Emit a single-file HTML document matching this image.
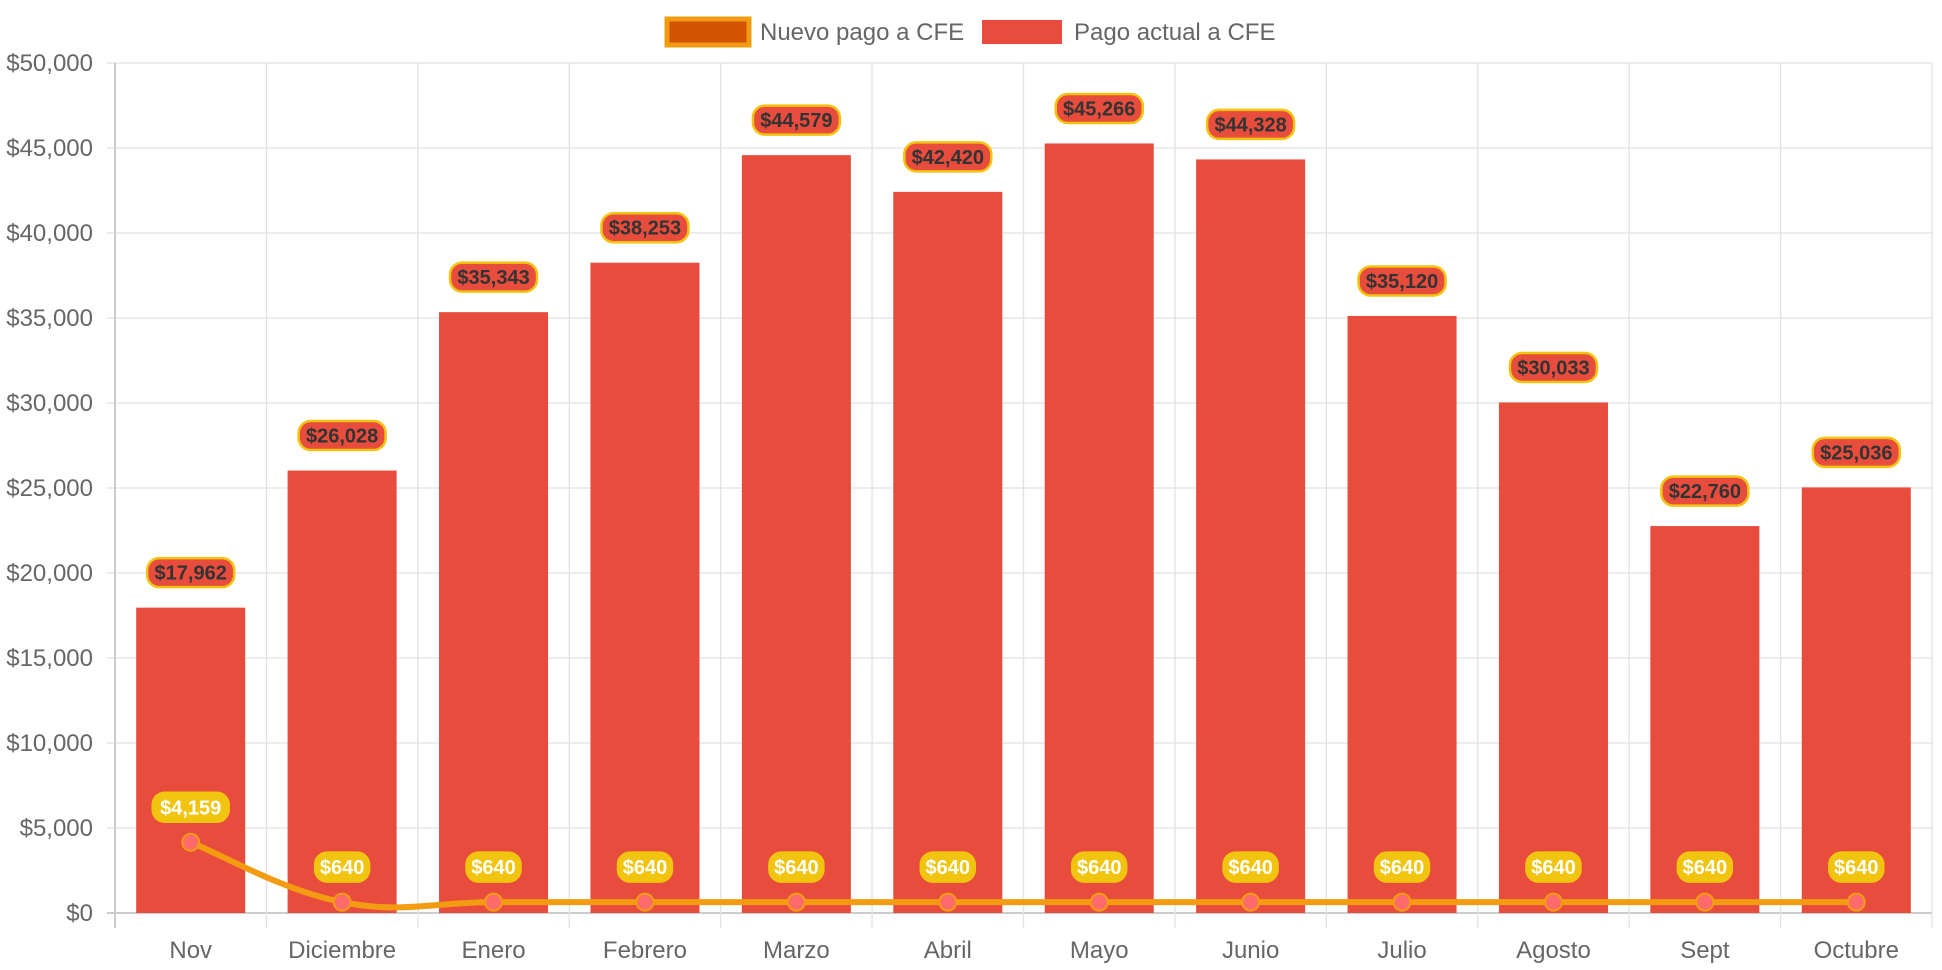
<!DOCTYPE html>
<html><head><meta charset="utf-8">
<style>
html,body{margin:0;padding:0;background:#fff;}
svg{display:block;font-family:"Liberation Sans",sans-serif;}
</style></head>
<body>
<svg id="chart" width="1942" height="970">
  <g id="legend">
    <g>
      <rect x="667" y="19" width="82" height="26" fill="#d35400" stroke="#f39c12" stroke-width="5"/>
      <text x="760" y="40" font-size="24" fill="#666">Nuevo pago a CFE</text>
    </g>
    <g>
      <rect x="982" y="20" width="80" height="24" fill="#e74c3c"/>
      <text x="1074" y="40" font-size="24" fill="#666">Pago actual a CFE</text>
    </g>
  </g>
  <g id="grid"></g>
  <g id="bars"></g>
  <g id="line"></g>
  <g id="labels"></g>
</svg>
<script>
const categories=["Nov","Diciembre","Enero","Febrero","Marzo","Abril","Mayo","Junio","Julio","Agosto","Sept","Octubre"];
const pagoActual=[17962,26028,35343,38253,44579,42420,45266,44328,35120,30033,22760,25036];
const nuevoPago=[4159,640,640,640,640,640,640,640,640,640,640,640];
const yTicks=[0,5000,10000,15000,20000,25000,30000,35000,40000,45000,50000];

const NS="http://www.w3.org/2000/svg";
const L=115,R=1932,T=63,B=913,YMAX=50000;
const band=(R-L)/categories.length;
const xC=i=>L+band*(i+0.5);
const y=v=>B-(v/YMAX)*(B-T);
const fmt=v=>"$"+v.toLocaleString("en-US");
function mk(tag,attrs,parent){const e=document.createElementNS(NS,tag);for(const k in attrs)e.setAttribute(k,attrs[k]);parent.appendChild(e);return e;}

const grid=document.getElementById('grid');
yTicks.forEach(t=>{
  const g=mk('g',{},grid);
  
  
  mk('line',{x1:L-8,x2:R,y1:y(t),y2:y(t),stroke:t===0?'#ccc':'#e2e2e2','stroke-width':t===0?2:1.3},g);
  const tx=mk('text',{x:93,y:y(t)+8,'text-anchor':'end','font-size':24,fill:'#666'},g);
  tx.textContent=fmt(t);
  
  
});
for(let i=0;i<=categories.length;i++){
  const x=L+band*i;
  mk('line',{x1:x,x2:x,y1:T,y2:B+15,stroke:i===0?'#ccc':'#e2e2e2','stroke-width':i===0?2:1.3},grid);
}
categories.forEach((c,i)=>{
  const tx=mk('text',{x:xC(i),y:958,'text-anchor':'middle','font-size':24,fill:'#666'},grid);
  tx.textContent=c;
  
  
});

const bars=document.getElementById('bars');
const bw=band*0.72;
pagoActual.forEach((v,i)=>{
  const r=mk('rect',{x:xC(i)-bw/2,y:y(v),width:bw,height:B-y(v),fill:'#e74c3c'},bars);
  
  
});

const pts=nuevoPago.map((v,i)=>[xC(i),y(v)]);
const tension=0.4;
let d="M"+pts[0][0]+","+pts[0][1];
for(let i=0;i<pts.length-1;i++){
  const p0=pts[i-1]||pts[i],p1=pts[i],p2=pts[i+1],p3=pts[i+2]||p2;
  const c1=[p1[0]+(p2[0]-p0[0])*tension/2,p1[1]+(p2[1]-p0[1])*tension/2];
  const c2=[p2[0]-(p3[0]-p1[0])*tension/2,p2[1]-(p3[1]-p1[1])*tension/2];
  d+=` C${c1[0]},${c1[1]} ${c2[0]},${c2[1]} ${p2[0]},${p2[1]}`;
}
const lineG=document.getElementById('line');
const path=mk('path',{d:d,fill:'none',stroke:'#f39c12','stroke-width':6},lineG);


pts.forEach((p,i)=>{
  const c=mk('circle',{cx:p[0],cy:p[1],r:8.5,fill:'#ff6b6b',stroke:'#f39c12','stroke-width':2},lineG);
  
  
});

const labels=document.getElementById('labels');
function pill(cx,cy,text,fill,stroke,color,name){
  const g=mk('g',{},labels);
  
  
  const w=text.length*11+10,h=29;
  mk('rect',{x:cx-w/2,y:cy-h/2,width:w,height:h,rx:12,fill:fill,stroke:stroke,'stroke-width':2.5},g);
  const t=mk('text',{x:cx,y:cy+7,'text-anchor':'middle','font-size':20,'font-weight':'bold',fill:color},g);
  t.textContent=text;
}
pagoActual.forEach((v,i)=>pill(xC(i),y(v)-35,fmt(v),'#e74c3c','#f1c40f','#333','bar-value-label'));
nuevoPago.forEach((v,i)=>pill(xC(i),y(v)-35,fmt(v),'#f1c40f','#f1c40f','#fff','line-value-label'));
</script>
</body></html>
